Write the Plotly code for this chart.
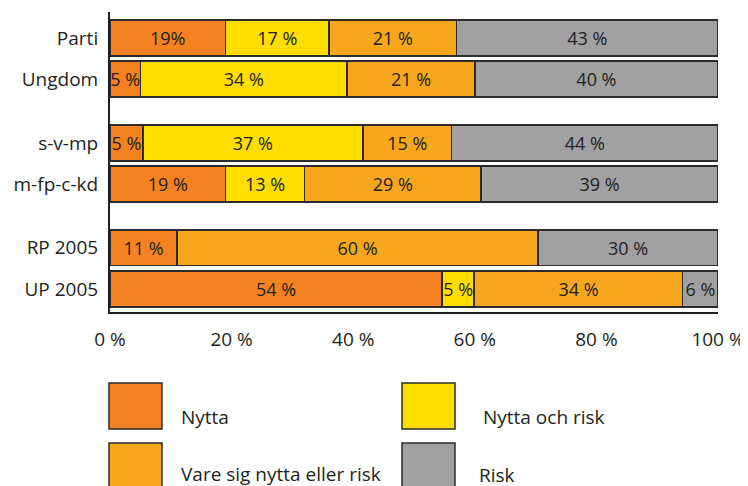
import plotly.graph_objects as go

# ---- data ----
categories = ["Parti", "Ungdom", "s-v-mp", "m-fp-c-kd", "RP 2005", "UP 2005"]
groups = [0, 0, 1, 1, 2, 2]  # visual grouping of the rows
series = ["Nytta", "Nytta och risk", "Vare sig nytta eller risk", "Risk"]
# segment widths (% of respondents)
nytta = [19, 5, 5.4, 19, 11, 54.6]
nytta_och_risk = [17, 34, 36.2, 13, 0, 5.3]
vare_sig = [21, 21, 14.6, 29, 59.4, 34.3]
risk = [43, 40, 43.8, 39, 29.6, 5.8]
# printed labels
nytta_lbl = ["19%", "5 %", "5 %", "19 %", "11 %", "54 %"]
nytta_och_risk_lbl = ["17 %", "34 %", "37 %", "13 %", "", "5 %"]
vare_sig_lbl = ["21 %", "21 %", "15 %", "29 %", "60 %", "34 %"]
risk_lbl = ["43 %", "40 %", "44 %", "39 %", "30 %", "6 %"]
x_ticks = [0, 20, 40, 60, 80, 100]

colors = ["#F58220", "#FFDD00", "#F6A71E", "#A1A1A4"]
TXT = "#231F20"
FONT = "Open Sans"

ypos = [i + 0.55 * g for i, g in enumerate(groups)]

fig = go.Figure()
for name, vals, lbls, col in zip(
    series,
    [nytta, nytta_och_risk, vare_sig, risk],
    [nytta_lbl, nytta_och_risk_lbl, vare_sig_lbl, risk_lbl],
    colors,
):
    fig.add_trace(go.Bar(
        name=name, y=ypos, x=vals, orientation="h", width=0.87,
        marker=dict(color=col, line=dict(color="#2b2b2b", width=1.5)),
        text=lbls, textposition="inside", insidetextanchor="middle",
        textangle=0, constraintext="none",
        textfont=dict(family=FONT, size=18, color=TXT),
        showlegend=False, hoverinfo="skip",
    ))

# page body has an 8px margin, so the figure is sized/placed to compensate
OFF = 8
W, H = 740, 478
L, T = 102, 4
PW, PH = 608, 300
R, B = W - L - PW, H - T - PH


def px(x):  # screen pixel -> paper x
    return (x - OFF - L) / PW


def py(y):  # screen pixel -> paper y
    return (T + PH - (y - OFF)) / PH


# manual legend with large swatches
leg = [
    (series[0], colors[0], 109, 383, 179, 417),
    (series[1], colors[1], 402, 383, 481, 417),
    (series[2], colors[2], 109, 443, 179, 474),
    (series[3], colors[3], 402, 443, 477, 475),
]
shapes, annos = [], []
for name, col, sx, sy, tx, ty in leg:
    shapes.append(dict(type="rect", xref="paper", yref="paper",
                       x0=px(sx), x1=px(sx + 53), y0=py(sy), y1=py(sy + 46),
                       fillcolor=col, line=dict(color="#2b2b2b", width=1.5)))
    annos.append(dict(xref="paper", yref="paper", x=px(tx), y=py(ty),
                      text=name, showarrow=False, xanchor="left", yanchor="middle",
                      font=dict(family=FONT, size=19, color=TXT)))

fig.update_layout(
    barmode="stack",
    width=W, height=H,
    margin=dict(l=L, r=R, t=T, b=B, autoexpand=False),
    paper_bgcolor="white", plot_bgcolor="white",
    font=dict(family=FONT, size=18, color=TXT),
    shapes=shapes, annotations=annos,
    xaxis=dict(range=[0, 100], tickvals=x_ticks, ticktext=[f"{v} %" for v in x_ticks],
               showgrid=False, zeroline=False, showline=True, linecolor=TXT,
               linewidth=2, ticks="", ticklabelstandoff=9,
               tickfont=dict(family=FONT, size=19, color=TXT), fixedrange=True),
    yaxis=dict(range=[6.66, -0.63], tickvals=ypos, ticktext=categories,
               showgrid=False, zeroline=False, showline=True, linecolor=TXT,
               linewidth=2, ticks="", ticklabelstandoff=6,
               tickfont=dict(family=FONT, size=19, color=TXT), fixedrange=True),
)

fig.write_html("out.html")
